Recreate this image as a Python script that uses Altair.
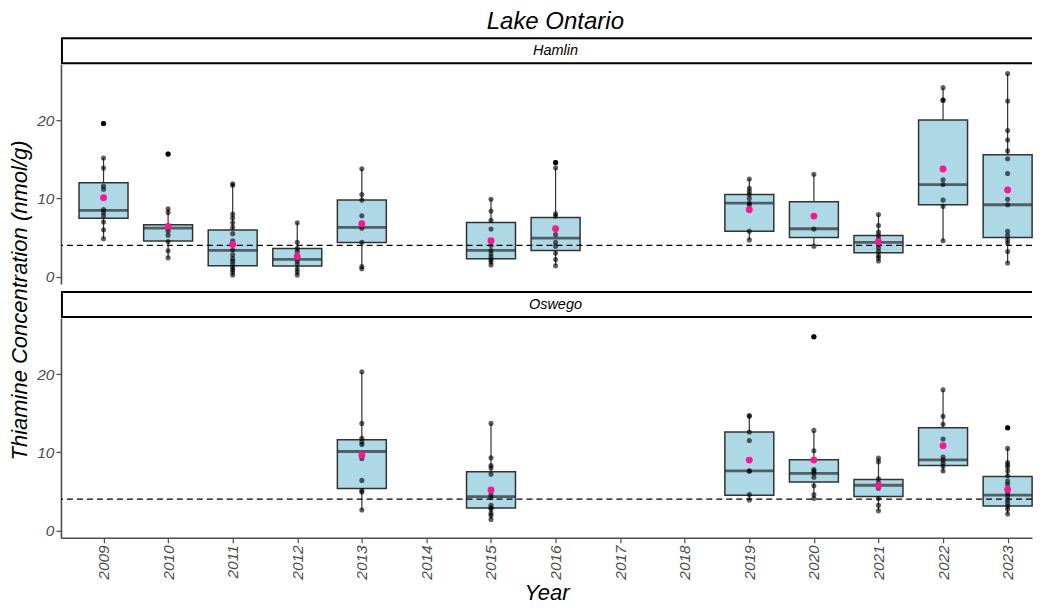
import altair as alt
import pandas as pd

# ---------------- data ----------------
YEARS = list(range(2009, 2024))
Y_TICKS = [0, 10, 20]
THRESHOLD = 4

# Hamlin
H_YEARS = [2009, 2010, 2011, 2012, 2013, 2015, 2016, 2019, 2020, 2021, 2022, 2023]
H_LO = [4.85, 2.4, 0.15, 0.23, 1.0, 1.5, 1.43, 4.72, 3.9, 2.0, 4.6, 1.74]
H_Q1 = [7.46, 4.55, 1.38, 1.35, 4.38, 2.28, 3.35, 5.8, 5.0, 3.07, 9.2, 5.0]
H_MED = [8.48, 6.22, 3.35, 2.2, 6.3, 3.35, 4.93, 9.4, 6.13, 4.38, 11.77, 9.2]
H_Q3 = [12.03, 6.64, 5.96, 3.6, 9.8, 6.94, 7.58, 10.5, 9.6, 5.27, 20.06, 15.6]
H_HI = [15.2, 8.69, 11.9, 6.94, 13.8, 9.93, 13.95, 12.5, 13.1, 7.96, 24.2, 25.96]
H_MEAN = [10.1, 6.43, 4.12, 2.58, 6.77, 4.59, 6.13, 8.56, 7.75, 4.47, 13.78, 11.1]
H_OUT_YEARS = [2009, 2010, 2016]
H_OUT_VALUES = [19.6, 15.7, 14.6]
H_POINTS = {
    2009: [19.6, 15.2, 13.9, 11.6, 11.2, 8.6, 8.2, 7.8, 7.0, 6.0, 4.85],
    2010: [15.7, 8.7, 8.2, 6.5, 6.2, 5.8, 5.3, 4.5, 3.3, 2.4],
    2011: [11.9, 11.7, 8.0, 7.5, 6.9, 6.3, 5.5, 4.6, 4.1, 3.4, 2.8, 2.3, 2.0, 1.6, 1.2, 0.9, 0.6, 0.2],
    2012: [6.9, 4.4, 3.6, 3.2, 2.6, 2.0, 1.6, 1.0, 0.6, 0.2],
    2013: [13.8, 10.5, 9.8, 7.8, 6.2, 4.4, 1.3, 1.0],
    2015: [9.9, 8.4, 7.2, 6.1, 4.0, 3.35, 2.9, 2.5, 2.2, 1.9, 1.5],
    2016: [14.6, 13.95, 8.05, 7.75, 5.4, 4.4, 3.9, 3.0, 2.2, 1.4],
    2019: [12.5, 11.3, 10.9, 10.5, 10.0, 9.4, 9.2, 5.8, 4.7],
    2020: [13.1, 6.1, 3.9],
    2021: [7.96, 6.55, 5.7, 5.3, 4.85, 4.5, 4.1, 3.65, 3.2, 2.7, 2.4, 2.0],
    2022: [24.2, 22.6, 22.6, 12.4, 11.8, 9.8, 9.0, 4.6],
    2023: [26.0, 22.5, 18.7, 17.5, 16.1, 15.1, 13.2, 9.9, 9.2, 5.8, 5.3, 4.7, 4.3, 3.2, 1.74],
}

# Oswego
O_YEARS = [2013, 2015, 2019, 2020, 2021, 2022, 2023]
O_LO = [2.57, 1.41, 3.9, 4.07, 2.53, 7.58, 2.14]
O_Q1 = [5.35, 2.87, 4.5, 6.2, 4.33, 8.3, 3.13]
O_MED = [10.1, 4.33, 7.62, 7.29, 5.78, 9.04, 4.5]
O_Q3 = [11.6, 7.5, 12.6, 9.04, 6.5, 13.15, 6.9]
O_HI = [20.3, 13.7, 14.7, 12.76, 9.25, 17.96, 10.5]
O_MEAN = [9.64, 5.18, 9.0, 9.0, 5.75, 10.85, 5.23]
O_OUT_YEARS = [2020, 2023]
O_OUT_VALUES = [24.8, 13.15]
O_POINTS = {
    2013: [20.3, 13.7, 11.8, 11.3, 11.0, 9.2, 6.4, 5.1, 4.9, 2.6],
    2015: [13.7, 9.3, 8.3, 8.0, 7.2, 4.6, 4.2, 3.2, 2.9, 2.7, 2.2, 1.9, 1.4],
    2019: [14.7, 14.6, 12.6, 11.5, 7.6, 7.6, 4.6, 3.9],
    2020: [24.8, 12.8, 10.2, 9.0, 7.8, 7.6, 7.3, 6.8, 5.7, 4.6, 4.1],
    2021: [9.25, 8.8, 6.6, 6.1, 5.4, 4.1, 3.2, 2.5],
    2022: [18.0, 14.6, 13.6, 11.7, 9.4, 9.0, 8.6, 8.2, 7.6],
    2023: [13.15, 10.5, 8.7, 8.4, 8.1, 7.6, 7.0, 6.3, 5.9, 5.3, 4.8, 4.4, 3.9, 3.5, 3.1, 2.7, 2.1],
}

# ---------------- styling ----------------
FONT = "Liberation Sans"
W = 972
H = 220
STRIP = 26
XDOM = [2008.418, 2023.3]
YDOM = [-0.95, 27.2]
GREY = "#4D4D4D"
BOX_W = 49


def panel(site, years, lo, q1, med, q3, hi, mean, points, out_years, out_vals, bottom):
    stats = pd.DataFrame(dict(year=years, lo=lo, q1=q1, med=med, q3=q3, hi=hi, mean=mean))
    pts = pd.DataFrame([(y, v) for y, vs in points.items() for v in vs], columns=["year", "value"])
    outl = pd.DataFrame(dict(year=out_years, value=out_vals))
    thr = pd.DataFrame(dict(t=[THRESHOLD]))
    lab = pd.DataFrame(dict(label=[site]))

    xscale = alt.Scale(domain=XDOM, nice=False, zero=False)
    yscale = alt.Scale(domain=YDOM, nice=False, zero=False)
    xaxis = alt.Axis(values=YEARS, format="d", labelAngle=270, labelFontSize=15.5,
                     labelFontStyle="italic", labelColor=GREY, labelFont=FONT,
                     tickColor=GREY, tickSize=5, tickWidth=1.2, domainColor=GREY,
                     domainWidth=1.6, grid=False, labelFlush=False, labelOverlap=False,
                     labelPadding=2, title="Year", titleFont=FONT, titleFontSize=22,
                     titleFontStyle="italic", titleFontWeight="normal", titleColor="black",
                     titlePadding=3)
    common = dict(values=Y_TICKS, labelFontSize=15.5, labelFontStyle="italic",
                  labelColor=GREY, labelFont=FONT, tickColor=GREY, tickSize=5,
                  tickWidth=1.2, domainColor=GREY, domainWidth=1.6, grid=False,
                  labelPadding=2)
    if bottom:
        ytitle = None
        yaxis = alt.Axis(**common)
    else:
        ytitle = "Thiamine Concentration (nmol/g)"
        yaxis = alt.Axis(**common, titleFont=FONT, titleFontSize=22,
                         titleFontStyle="italic", titleFontWeight="normal", titleColor="black",
                         titleY=236, titlePadding=5)

    def X():
        if bottom:
            return alt.X("year:Q", scale=xscale, axis=xaxis)
        return alt.X("year:Q", scale=xscale, axis=None)

    def Y(field):
        return alt.Y(field, type="quantitative", scale=yscale, axis=yaxis, title=ytitle)

    whisk = alt.Chart(stats).mark_rule(color="#333333", strokeWidth=1.2).encode(
        x=X(), y=Y("lo"), y2="hi")
    box = alt.Chart(stats).mark_bar(size=BOX_W, fill="#ADD8E6", stroke="#333333",
                                    strokeWidth=1.5).encode(x=X(), y=Y("q1"), y2="q3")
    medl = alt.Chart(stats).mark_tick(size=BOX_W, thickness=2.8, color="#2b2b2b",
                                      orient="horizontal").encode(x=X(), y=Y("med"))
    dash = alt.Chart(thr).mark_rule(color="black", strokeDash=[6, 4], strokeWidth=1.2).encode(
        y=Y("t"))
    pt = alt.Chart(pts).mark_circle(size=26, color="black", opacity=0.62).encode(
        x=X(), y=Y("value"))
    ol = alt.Chart(outl).mark_circle(size=26, color="black", opacity=1).encode(
        x=X(), y=Y("value"))
    mn = alt.Chart(stats).mark_circle(size=48, color="#FF1493", opacity=1).encode(
        x=X(), y=Y("mean"))

    # facet strip drawn just above the plot area (framed on top, bottom and left;
    # in the reference the right end runs off the page)
    sbase = alt.Chart(lab)
    s_top = sbase.mark_rule(color="black", strokeWidth=2).encode(
        x=alt.value(0), x2=alt.value(W), y=alt.value(-STRIP))
    s_bot = sbase.mark_rule(color="black", strokeWidth=2).encode(
        x=alt.value(0), x2=alt.value(W), y=alt.value(-1))
    s_left = sbase.mark_rule(color="black", strokeWidth=2).encode(
        x=alt.value(1), y=alt.value(-STRIP), y2=alt.value(-1))
    s_cover = sbase.mark_rule(color="white", strokeWidth=4).encode(
        x=alt.value(W), y=alt.value(-STRIP + 2), y2=alt.value(-3))
    s_txt = sbase.mark_text(font=FONT, fontSize=14.5, fontStyle="italic", color="black",
                            align="center", baseline="middle").encode(
        text="label:N", x=alt.value(495), y=alt.value(-STRIP / 2))

    return alt.layer(whisk, box, medl, dash, pt, ol, mn,
                     s_top, s_bot, s_left, s_txt, s_cover).properties(width=W, height=H)


top_panel = panel("Hamlin", H_YEARS, H_LO, H_Q1, H_MED, H_Q3, H_HI, H_MEAN, H_POINTS,
                  H_OUT_YEARS, H_OUT_VALUES, bottom=False)
bot_panel = panel("Oswego", O_YEARS, O_LO, O_Q1, O_MED, O_Q3, O_HI, O_MEAN, O_POINTS,
                  O_OUT_YEARS, O_OUT_VALUES, bottom=True)

chart = alt.vconcat(
    top_panel,
    bot_panel,
    spacing=34,
).properties(
    bounds="flush",
    title=alt.TitleParams("Lake Ontario", font=FONT, fontSize=24, fontStyle="italic",
                          fontWeight="normal", color="black", anchor="middle", offset=3,
                          dx=34),
    padding={"left": 0, "top": 2, "right": 0, "bottom": 0},
).configure_view(stroke="transparent", strokeWidth=0)

chart.save("out.html", embed_options={"renderer": "svg", "actions": False})
